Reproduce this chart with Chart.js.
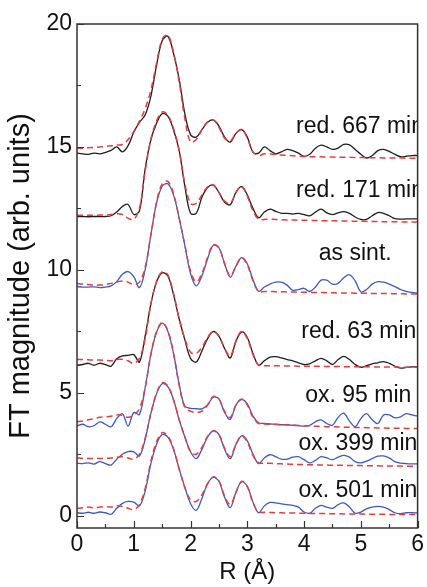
<!DOCTYPE html>
<html>
<head>
<meta charset="utf-8">
<script src="https://cdn.jsdelivr.net/npm/chart.js@4"></script>
<style>
  html, body { margin: 0; padding: 0; background: #ffffff; }
  #wrap { width: 427px; height: 587px; }
</style>
</head>
<body>
<div id="wrap"><canvas id="c" width="427" height="587"></canvas></div>
<script>
// ---------- data ----------
const rValues = [0.0,0.1,0.2,0.3,0.4,0.5,0.6,0.7,0.8,0.9,1.0,1.1,1.2,1.3,1.4,1.5,1.6,1.7,1.8,1.9,2.0,2.1,2.2,2.3,2.4,2.5,2.6,2.7,2.8,2.9,3.0,3.1,3.2,3.3,3.4,3.5,3.6,3.7,3.8,3.9,4.0,4.1,4.2,4.3,4.4,4.5,4.6,4.7,4.8,4.9,5.0,5.1,5.2,5.3,5.4,5.5,5.6,5.7,5.8,5.9,6.0];

const seriesNames = ['red. 667 min','red. 171 min','as sint.','red. 63 min','ox. 95 min','ox. 399 min','ox. 501 min'];

const dataRed667 = [14.75,14.72,14.70,14.75,14.72,14.78,14.86,15.00,14.80,15.05,15.60,16.00,16.30,17.05,18.30,19.32,19.50,18.80,17.75,16.35,15.50,15.40,15.70,16.00,16.10,15.85,15.40,15.20,15.55,15.70,15.40,14.78,14.75,15.00,14.85,14.72,14.80,14.90,14.85,14.75,14.62,14.70,14.95,15.07,15.00,14.90,14.95,15.10,15.08,14.90,14.70,14.55,14.65,14.85,14.90,14.82,14.70,14.60,14.62,14.65,14.65];
const fitRed667 = [14.95,14.95,14.97,14.98,15.00,15.02,15.05,15.08,15.10,15.30,15.62,16.05,16.55,17.30,18.40,19.38,19.55,18.85,17.65,16.15,15.20,15.30,15.70,16.02,16.10,15.80,15.35,15.25,15.55,15.72,15.35,14.80,14.65,14.72,14.72,14.68,14.67,14.66,14.64,14.62,14.61,14.60,14.60,14.60,14.59,14.59,14.58,14.58,14.58,14.57,14.57,14.56,14.56,14.56,14.55,14.55,14.55,14.55,14.54,14.54,14.54];

const dataRed171 = [12.17,12.17,12.16,12.17,12.17,12.17,12.20,12.35,12.58,12.66,12.25,12.40,14.10,15.28,15.95,16.35,16.25,15.70,14.85,13.40,12.30,12.30,12.95,13.35,13.45,13.15,12.75,12.65,13.15,13.38,13.05,12.50,12.12,12.35,12.47,12.38,12.30,12.30,12.27,12.30,12.25,12.20,12.35,12.47,12.32,12.25,12.32,12.37,12.30,12.15,12.05,12.05,12.20,12.33,12.30,12.20,12.08,12.06,12.07,12.07,12.07];
const fitRed171 = [12.22,12.22,12.22,12.22,12.23,12.23,12.25,12.28,12.25,12.10,12.05,12.50,14.00,15.30,16.05,16.42,16.30,15.75,14.85,13.50,12.70,12.70,13.05,13.38,13.46,13.15,12.80,12.70,13.15,13.40,13.00,12.40,12.05,12.05,12.06,12.05,12.04,12.03,12.03,12.02,12.02,12.01,12.01,12.00,12.00,12.00,11.99,11.99,11.98,11.98,11.98,11.97,11.97,11.97,11.96,11.96,11.96,11.95,11.95,11.95,11.95];

const dataAsSint = [9.32,9.30,9.30,9.31,9.28,9.30,9.35,9.52,9.82,9.93,9.72,9.28,10.00,11.40,12.70,13.40,13.50,13.05,12.10,11.00,9.85,9.35,9.75,10.45,11.00,10.90,10.25,9.70,10.15,10.50,10.25,9.60,9.13,9.30,9.42,9.50,9.50,9.38,9.17,9.20,9.25,9.12,9.30,9.58,9.58,9.42,9.45,9.68,9.80,9.55,9.10,9.20,9.42,9.52,9.50,9.42,9.32,9.20,9.12,9.08,9.05];
const fitAsSint = [9.45,9.42,9.40,9.38,9.38,9.40,9.45,9.50,9.55,9.50,9.40,9.50,10.10,11.40,12.75,13.50,13.60,13.10,12.10,11.00,9.95,9.50,9.85,10.50,11.02,10.90,10.25,9.75,10.15,10.50,10.20,9.55,9.12,9.12,9.12,9.11,9.11,9.10,9.10,9.09,9.09,9.08,9.08,9.08,9.07,9.07,9.06,9.06,9.06,9.05,9.05,9.05,9.04,9.04,9.04,9.03,9.03,9.03,9.02,9.02,9.02];

const dataRed63 = [6.12,6.15,6.20,6.12,6.20,6.15,6.08,6.38,6.50,6.52,6.55,6.25,7.30,8.60,9.50,9.88,9.75,9.00,8.00,7.15,6.40,6.25,6.70,7.20,7.49,7.30,6.80,6.42,7.10,7.47,7.25,6.60,6.12,6.30,6.45,6.47,6.42,6.35,6.30,6.22,6.15,6.18,6.30,6.40,6.30,6.15,6.35,6.48,6.35,6.15,6.04,6.10,6.18,6.22,6.27,6.20,6.08,6.00,6.03,6.05,6.05];
const fitRed63 = [6.35,6.35,6.34,6.33,6.33,6.32,6.30,6.35,6.36,6.30,6.20,6.40,7.20,8.60,9.52,9.92,9.80,9.05,8.00,7.20,6.65,6.60,6.85,7.25,7.50,7.30,6.80,6.50,7.10,7.50,7.20,6.55,6.12,6.10,6.10,6.10,6.09,6.09,6.09,6.08,6.08,6.08,6.08,6.07,6.07,6.07,6.07,6.06,6.06,6.06,6.06,6.06,6.05,6.05,6.05,6.05,6.05,6.04,6.04,6.04,6.04];

const dataOx95 = [3.65,3.72,3.62,3.66,3.82,3.72,3.62,3.95,4.15,3.65,4.20,4.12,5.20,6.55,7.45,7.83,7.50,6.60,5.35,4.45,4.37,4.35,4.35,4.50,4.82,4.75,4.20,3.92,4.50,4.72,4.55,4.05,3.78,3.75,3.73,3.72,3.70,3.70,3.68,3.66,3.64,3.68,3.82,3.90,3.75,3.68,4.00,4.17,3.85,3.62,3.95,4.15,3.90,3.75,4.10,4.10,3.98,4.02,4.15,4.10,4.05];
const fitOx95 = [3.82,3.85,3.90,3.95,4.00,4.02,4.05,4.10,4.08,4.00,4.10,4.35,5.20,6.55,7.48,7.86,7.52,6.60,5.30,4.40,4.25,4.20,4.25,4.50,4.85,4.75,4.25,4.00,4.50,4.75,4.50,4.00,3.75,3.73,3.72,3.71,3.70,3.69,3.68,3.67,3.66,3.65,3.64,3.63,3.62,3.62,3.61,3.60,3.60,3.59,3.59,3.58,3.58,3.57,3.57,3.56,3.56,3.56,3.55,3.55,3.55];

const dataOx399 = [2.14,2.12,2.15,2.10,2.20,2.12,2.06,2.30,2.50,2.61,2.60,2.43,3.10,4.15,4.95,5.37,5.25,4.72,3.90,3.20,2.60,2.32,2.70,3.20,3.45,3.30,2.70,2.32,2.90,3.25,3.05,2.50,2.12,2.35,2.48,2.40,2.30,2.30,2.38,2.40,2.28,2.15,2.25,2.40,2.35,2.28,2.38,2.45,2.38,2.20,2.15,2.22,2.32,2.42,2.43,2.35,2.20,2.14,2.12,2.11,2.11];
const fitOx399 = [2.35,2.33,2.33,2.33,2.33,2.33,2.35,2.38,2.40,2.35,2.30,2.50,3.15,4.15,4.98,5.40,5.28,4.72,3.90,3.20,2.60,2.50,2.78,3.22,3.45,3.30,2.75,2.40,2.90,3.25,3.00,2.45,2.15,2.14,2.13,2.12,2.11,2.10,2.09,2.08,2.08,2.07,2.07,2.06,2.06,2.05,2.05,2.05,2.04,2.04,2.04,2.03,2.03,2.03,2.02,2.02,2.02,2.02,2.01,2.01,2.01];

const dataOx501 = [0.12,0.10,0.14,0.10,0.15,0.12,0.06,0.30,0.50,0.58,0.55,0.40,1.00,2.10,2.90,3.30,3.20,2.70,1.90,1.15,0.50,0.22,0.70,1.30,1.56,1.40,0.75,0.33,0.95,1.38,1.20,0.55,0.12,0.40,0.54,0.52,0.48,0.45,0.42,0.35,0.15,0.10,0.30,0.42,0.35,0.30,0.45,0.52,0.35,0.10,0.15,0.28,0.35,0.38,0.35,0.25,0.12,0.08,0.12,0.12,0.11];
const fitOx501 = [0.30,0.32,0.35,0.32,0.35,0.37,0.35,0.40,0.38,0.30,0.25,0.45,1.10,2.20,3.00,3.38,3.25,2.72,1.90,1.15,0.65,0.58,0.85,1.30,1.58,1.42,0.80,0.45,0.95,1.40,1.18,0.52,0.15,0.14,0.13,0.12,0.12,0.11,0.11,0.10,0.10,0.09,0.09,0.09,0.08,0.08,0.08,0.07,0.07,0.07,0.07,0.06,0.06,0.06,0.06,0.05,0.05,0.05,0.05,0.05,0.05];

const xTickValues = [0,1,2,3,4,5,6];
const xMinorTicks = [0.5,1.5,2.5,3.5,4.5,5.5];
const yTickValues = [0,5,10,15,20];
const yMinorTicks = [2.5,7.5,12.5,17.5];

// ---------- styles ----------
const measured = [dataRed667, dataRed171, dataAsSint, dataRed63, dataOx95, dataOx399, dataOx501];
const fits = [fitRed667, fitRed171, fitAsSint, fitRed63, fitOx95, fitOx399, fitOx501];
const measuredColors = ['#1e1e1e','#1e1e1e','#3b5bc4','#1e1e1e','#3b5bc4','#3b5bc4','#3b5bc4'];
const fitColor = '#f03a3a';
const FONT = "'Liberation Sans', Arial, Helvetica, sans-serif";

// label placement (data coordinates: left x, baseline y)
const labelPlacement = [
  {x: 3.86, y: 15.57},
  {x: 3.86, y: 12.97},
  {x: 4.26, y: 10.41},
  {x: 3.95, y: 7.24},
  {x: 4.02, y: 4.63},
  {x: 3.90, y: 2.68},
  {x: 3.90, y: 0.77}
];

const toPts = arr => arr.map((v, i) => ({x: rValues[i], y: v}));

const datasets = [];
seriesNames.forEach((name, i) => {
  datasets.push({
    label: name + ' fit',
    data: toPts(fits[i]),
    borderColor: fitColor,
    borderWidth: 1.5,
    borderDash: [6, 4],
    pointRadius: 0,
    tension: 0.35,
    fill: false,
    order: 0
  });
  datasets.push({
    label: name,
    data: toPts(measured[i]),
    borderColor: measuredColors[i],
    borderWidth: 1.3,
    pointRadius: 0,
    tension: 0.35,
    fill: false,
    order: 1
  });
});

const decorPlugin = {
  id: 'decor',
  afterDatasetsDraw(chart) {
    const ctx = chart.ctx;
    const {left, right, top, bottom} = chart.chartArea;
    const xs = chart.scales.x, ys = chart.scales.y;
    ctx.save();
    // frame
    ctx.strokeStyle = '#333333';
    ctx.lineWidth = 1.5;
    ctx.strokeRect(left, top, right - left, bottom - top);
    // inward ticks
    ctx.lineWidth = 1.2;
    ctx.beginPath();
    xTickValues.forEach(v => { const p = Math.round(xs.getPixelForValue(v)) + 0.5; ctx.moveTo(p, bottom); ctx.lineTo(p, bottom - 7); });
    xMinorTicks.forEach(v => { const p = Math.round(xs.getPixelForValue(v)) + 0.5; ctx.moveTo(p, bottom); ctx.lineTo(p, bottom - 4); });
    yTickValues.forEach(v => { const p = Math.round(ys.getPixelForValue(v)) + 0.5; ctx.moveTo(left, p); ctx.lineTo(left + 7, p); });
    yMinorTicks.forEach(v => { const p = Math.round(ys.getPixelForValue(v)) + 0.5; ctx.moveTo(left, p); ctx.lineTo(left + 4, p); });
    ctx.stroke();
    // series labels
    ctx.beginPath();
    ctx.rect(left, top, right - left, bottom - top);
    ctx.clip();
    ctx.fillStyle = '#111111';
    ctx.font = '23px ' + FONT;
    ctx.textAlign = 'left';
    ctx.textBaseline = 'alphabetic';
    seriesNames.forEach((name, i) => {
      const pos = labelPlacement[i];
      ctx.fillText(name, xs.getPixelForValue(pos.x), ys.getPixelForValue(pos.y));
    });
    ctx.restore();
  }
};

new Chart(document.getElementById('c'), {
  type: 'line',
  data: { datasets },
  plugins: [decorPlugin],
  options: {
    responsive: false,
    animation: false,
    devicePixelRatio: 1,
    layout: { padding: { top: 24, right: 5, left: 0, bottom: 0 }, autoPadding: false },
    plugins: { legend: { display: false }, tooltip: { enabled: false } },
    scales: {
      x: {
        type: 'linear',
        min: 0, max: 6,
        grid: { display: false, drawTicks: false },
        border: { display: false },
        afterBuildTicks: axis => { axis.ticks = xTickValues.map(v => ({value: v})); },
        afterFit: axis => { axis.height = 59; },
        ticks: { color: '#111', font: { family: FONT, size: 23 }, padding: 3, maxRotation: 0, autoSkip: false },
        title: { display: true, text: 'R (Å)', color: '#111', font: { family: FONT, size: 24 }, padding: { top: 0, bottom: 0 } }
      },
      y: {
        type: 'linear',
        min: -0.5, max: 20,
        grid: { display: false, drawTicks: false },
        border: { display: false },
        afterBuildTicks: axis => { axis.ticks = yTickValues.map(v => ({value: v})); },
        afterFit: axis => { axis.width = 77; },
        ticks: { color: '#111', font: { family: FONT, size: 23 }, padding: 5, autoSkip: false },
        title: { display: true, text: 'FT magnitude (arb. units)', color: '#111', font: { family: FONT, size: 29 }, padding: { top: 4, bottom: 4 } }
      }
    }
  }
});
</script>
</body>
</html>
